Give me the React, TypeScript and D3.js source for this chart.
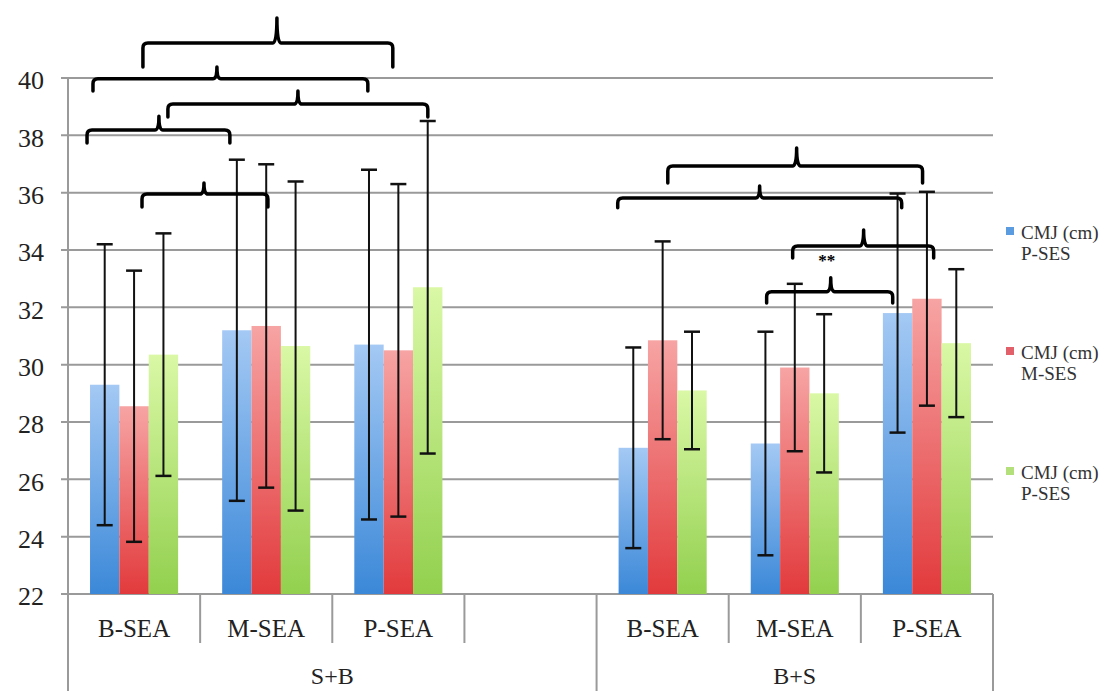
import React from "react";
import * as d3 from "d3";

// x categories (slot 4 is the empty gap inside S+B)
const categories = ["B-SEA", "M-SEA", "P-SEA", "", "B-SEA", "M-SEA", "P-SEA"];
const groupLabels = ["S+B", "B+S"];
const groupSizes = [4, 3];

const seriesNames = ["CMJ (cm)|P-SES", "CMJ (cm)|M-SES", "CMJ (cm)|P-SES"];

// means
const blueValues = [29.3, 31.2, 30.7, null, 27.1, 27.25, 31.8];
const redValues = [28.55, 31.35, 30.5, null, 30.85, 29.9, 32.3];
const greenValues = [30.35, 30.65, 32.7, null, 29.1, 29.0, 30.75];

// standard deviations (error bars)
const blueErrors = [4.9, 5.95, 6.1, null, 3.5, 3.9, 4.17];
const redErrors = [4.73, 5.64, 5.8, null, 3.45, 2.92, 3.73];
const greenErrors = [4.23, 5.74, 5.8, null, 2.05, 2.76, 2.58];

const yTicks = [22, 24, 26, 28, 30, 32, 34, 36, 38, 40];

// brackets: [from slot, to slot, mid slot, line value, end value, tip value]
const brackets = [
  [0.567, 2.458, 1.581, 41.22, 40.38, 42.09],
  [0.189, 2.269, 1.127, 39.97, 39.55, 40.38],
  [0.756, 2.723, 1.74, 39.09, 38.64, 39.55],
  [0.144, 1.225, 0.688, 38.19, 37.73, 38.67],
  [0.56, 1.513, 1.029, 35.95, 35.5, 36.34],
  [4.539, 6.467, 5.514, 36.93, 36.34, 37.56],
  [4.16, 6.309, 5.234, 35.81, 35.47, 36.23],
  [5.484, 6.551, 6.021, 34.14, 33.72, 34.7],
  [5.287, 6.241, 5.772, 32.54, 32.15, 33.03],
];
// significance mark: [slot, value, text]
const marks = [[5.741, 33.45, "**"]];

const colors = [
  { top: "#a4c9f4", bottom: "#3b88d8", key: "#5b9be0" },
  { top: "#f7a4a4", bottom: "#e23a3c", key: "#e2606a" },
  { top: "#daf8a6", bottom: "#92d04e", key: "#b4e07c" },
];

const App = () => {
  const width = 1110;
  const height = 691;
  const left = 68;
  const right = 993;
  const top = 78;
  const bottom = 594;
  const font = "'Liberation Serif', 'DejaVu Serif', serif";

  const values = [blueValues, redValues, greenValues];
  const errors = [blueErrors, redErrors, greenErrors];

  const y = d3.scaleLinear().domain([22, 40]).range([bottom, top]);
  const x0 = d3
    .scaleBand()
    .domain(categories.map((_, i) => String(i)))
    .range([left, right])
    .paddingInner(0)
    .paddingOuter(0);
  const x1 = d3
    .scaleBand()
    .domain(["0", "1", "2"])
    .range([0, x0.bandwidth()])
    .paddingInner(0)
    .paddingOuter(0.75);
  const slot = d3.scaleLinear().domain([0, categories.length]).range([left, right]);

  // group boundaries in slot units
  const groupEdges = [0];
  groupSizes.forEach((s) => groupEdges.push(groupEdges[groupEdges.length - 1] + s));

  const bracePath = (b) => {
    const x1p = slot(b[0]);
    const x2p = slot(b[1]);
    const xm = slot(b[2]);
    const yl = y(b[3]);
    const ye = y(b[4]);
    const yt = y(b[5]);
    const r = 5;
    return `M${x1p},${ye} L${x1p},${yl + r} Q${x1p},${yl} ${x1p + r},${yl} L${xm - 4},${yl} Q${xm},${yl} ${xm},${yt} Q${xm},${yl} ${xm + 4},${yl} L${x2p - r},${yl} Q${x2p},${yl} ${x2p},${yl + r} L${x2p},${ye}`;
  };

  return (
    <svg
      width={width}
      height={height}
      style={{ position: "absolute", left: 0, top: 0, background: "#fff" }}
    >
      <defs>
        {colors.map((c, i) => (
          <linearGradient key={i} id={`grad${i}`} x1="0" y1="0" x2="0" y2="1">
            <stop offset="0%" stopColor={c.top} />
            <stop offset="100%" stopColor={c.bottom} />
          </linearGradient>
        ))}
      </defs>

      {/* gridlines */}
      {yTicks.map((t) => (
        <line
          key={t}
          x1={left - 7}
          x2={right}
          y1={y(t)}
          y2={y(t)}
          stroke="#9a9a9a"
          strokeWidth={2}
        />
      ))}
      {yTicks.map((t) => (
        <text
          key={`l${t}`}
          x={44}
          y={y(t)}
          dy="0.44em"
          textAnchor="end"
          fontFamily={font}
          fontSize={26}
          fill="#222"
        >
          {t}
        </text>
      ))}

      {/* bars */}
      {categories.map((c, i) =>
        values.map((vals, s) => {
          const v = vals[i];
          if (v == null) return null;
          const bx = x0(String(i)) + x1(String(s));
          return (
            <rect
              key={`b${i}-${s}`}
              x={bx}
              y={y(v)}
              width={x1.bandwidth()}
              height={y(22) - y(v)}
              fill={`url(#grad${s})`}
            />
          );
        })
      )}

      {/* error bars */}
      {categories.map((c, i) =>
        values.map((vals, s) => {
          const v = vals[i];
          const e = errors[s][i];
          if (v == null || e == null) return null;
          const cx = x0(String(i)) + x1(String(s)) + x1.bandwidth() / 2;
          return (
            <g key={`e${i}-${s}`} stroke="#111" strokeWidth={2}>
              <line x1={cx} x2={cx} y1={y(v + e)} y2={y(v - e)} />
              <line x1={cx - 8} x2={cx + 8} y1={y(v + e)} y2={y(v + e)} strokeWidth={2.5} />
              <line x1={cx - 8} x2={cx + 8} y1={y(v - e)} y2={y(v - e)} strokeWidth={2.5} />
            </g>
          );
        })
      )}

      {/* axes */}
      <line x1={left} x2={left} y1={top} y2={height} stroke="#9a9a9a" strokeWidth={2} />
      {categories.map((c, i) =>
        i === 0 ? null : (
          <line
            key={`d${i}`}
            x1={x0(String(i))}
            x2={x0(String(i))}
            y1={bottom}
            y2={groupEdges.includes(i) ? height : bottom + 49}
            stroke="#9a9a9a"
            strokeWidth={2}
          />
        )
      )}
      <line x1={right} x2={right} y1={bottom} y2={height} stroke="#9a9a9a" strokeWidth={2} />
      {categories.map((c, i) => (
        <text
          key={`c${i}`}
          x={x0(String(i)) + x0.bandwidth() / 2}
          y={637}
          textAnchor="middle"
          fontFamily={font}
          fontSize={25}
          fill="#222"
        >
          {c}
        </text>
      ))}
      {groupLabels.map((g, i) => (
        <text
          key={`g${i}`}
          x={(slot(groupEdges[i]) + slot(groupEdges[i + 1])) / 2}
          y={684}
          textAnchor="middle"
          fontFamily={font}
          fontSize={24}
          fill="#222"
        >
          {g}
        </text>
      ))}

      {/* brackets */}
      {brackets.map((b, i) => (
        <path
          key={`br${i}`}
          d={bracePath(b)}
          fill="none"
          stroke="#000"
          strokeWidth={3.5}
          strokeLinejoin="round"
          strokeLinecap="round"
        />
      ))}
      {marks.map((m, i) => (
        <text
          key={`m${i}`}
          x={slot(m[0])}
          y={y(m[1])}
          textAnchor="middle"
          fontFamily={font}
          fontWeight="bold"
          fontSize={17}
          fill="#000"
        >
          {m[2]}
        </text>
      ))}

      {/* legend */}
      {seriesNames.map((n, i) => {
        const cy = 231 + i * 120;
        const lines = n.split("|");
        return (
          <g key={`lg${i}`}>
            <rect x={1006} y={cy - 4} width={8} height={8} fill={colors[i].key} />
            {lines.map((t, j) => (
              <text
                key={j}
                x={1021}
                y={cy + 8 + j * 21}
                fontFamily={font}
                fontSize={19}
                fill="#333"
              >
                {t}
              </text>
            ))}
          </g>
        );
      })}
    </svg>
  );
};

export default App;
